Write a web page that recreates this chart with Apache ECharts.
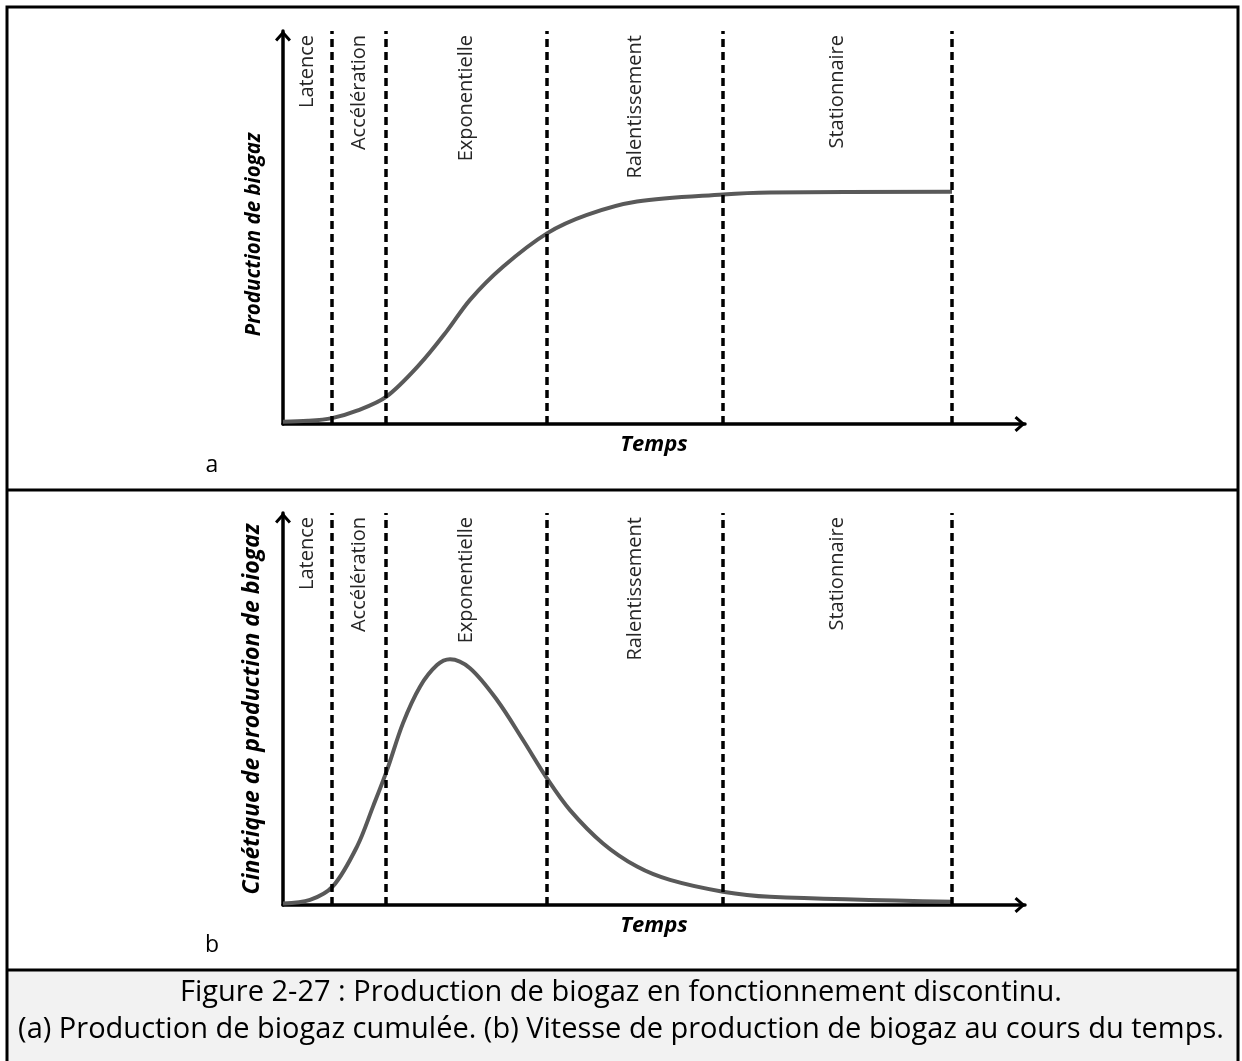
<!DOCTYPE html>
<html>
<head>
<meta charset="utf-8">
<script src="https://cdn.jsdelivr.net/npm/echarts@6/dist/echarts.min.js"></script>
<style>
  html, body { margin: 0; padding: 0; background: #fff; }
  #chart { width: 1242px; height: 1061px; }
</style>
</head>
<body>
<div id="chart"></div>
<script>
// phases of a batch digestion, boundaries in arbitrary time units
const phases = ['Latence', 'Accélération', 'Exponentielle', 'Ralentissement', 'Stationnaire'];
const phaseBounds = [0, 4.9, 10.3, 26.4, 44.0, 66.9];

// (a) cumulative biogas production
const timeA = [0, 2.5, 4.9, 7.4, 10.3, 13.7, 16.4, 18.7, 22.0, 26.4, 30.4, 35.4, 44.0, 48.7, 66.9];
const cumulA = [0.6, 0.8, 1.5, 3.4, 6.9, 15.3, 23.7, 31.6, 40.0, 48.5, 53.2, 56.6, 58.4, 58.9, 59.1];

// (b) biogas production rate
const timeB = [0, 2.7, 5.0, 7.4, 9.0, 10.4, 12.0, 13.7, 15.4, 16.7, 18.7, 21.4, 24.0, 26.4, 28.7, 32.0, 35.4, 38.7, 44.0, 48.7, 66.9];
const rateB = [0.4, 1.3, 4.8, 14.9, 25.1, 34.4, 46.4, 55.7, 61.2, 62.7, 60.4, 52.3, 42.1, 32.3, 24.2, 15.7, 9.8, 6.4, 3.4, 2.1, 0.8];

const yTitles = ['Production de biogaz', 'Cinétique de production de biogaz'];
const xTitle = 'Temps';
const panelTags = ['a', 'b'];
const caption = [
  'Figure 2-27 : Production de biogaz en fonctionnement discontinu.',
  '(a) Production de biogaz cumulée. (b) Vitesse de production de biogaz au cours du temps.'
];

const FONT = '"Open Sans", Lato, sans-serif';
const chevron = 'path://M8,0 L16,9 L13.8,11 L8,4.4 L2.2,11 L0,9 Z';

const chart = echarts.init(document.getElementById('chart'));

function xAx(i) {
  return {
    type: 'value', gridIndex: i, min: 0, max: 74.2,
    axisLine: { show: true, lineStyle: { color: '#000', width: 3.5 },
      symbol: ['none', chevron], symbolSize: [16, 11], symbolOffset: [0, -5] },
    axisTick: { show: false }, axisLabel: { show: false }, splitLine: { show: false },
    name: xTitle, nameLocation: 'middle', nameGap: 10,
    nameTextStyle: { fontFamily: FONT, fontSize: 22, fontWeight: 'bold', fontStyle: 'italic', color: '#000' }
  };
}
function yAx(i) {
  return {
    type: 'value', gridIndex: i, min: 0, max: 100,
    axisLine: { show: true, lineStyle: { color: '#000', width: 3.5 },
      symbol: ['none', chevron], symbolSize: [16, 11], symbolOffset: [0, -5] },
    axisTick: { show: false }, axisLabel: { show: false }, splitLine: { show: false },
    name: yTitles[i], nameLocation: 'middle', nameRotate: 90, nameGap: 19,
    nameTextStyle: { fontFamily: FONT, fontSize: i ? 23 : 20.5, fontWeight: 'bold', fontStyle: 'italic', color: '#000',
      padding: i ? 0 : [0, 14, 0, 0] }
  };
}
function curve(i, xs, ys) {
  return {
    type: 'line', xAxisIndex: i, yAxisIndex: i, smooth: 0.33, showSymbol: false,
    data: xs.map((x, k) => [x, ys[k]]),
    lineStyle: { color: '#595959', width: 4 },
    z: 3,
    markLine: {
      silent: true, symbol: 'none', animation: false,
      label: { show: false },
      lineStyle: { color: '#000', type: [8, 5], width: 3.5 },
      data: phaseBounds.slice(1).map(b => ({ xAxis: b }))
    }
  };
}

chart.setOption({
  animation: false,
  grid: [
    { left: 283, right: 217, top: 31, height: 393 },
    { left: 283, right: 217, top: 513, height: 392 }
  ],
  xAxis: [xAx(0), xAx(1)],
  yAxis: [yAx(0), yAx(1)],
  series: [curve(0, timeA, cumulA), curve(1, timeB, rateB)]
});

// frame, caption and phase names
const g = [];
g.push({ type: 'rect', z: 0, shape: { x: 7, y: 970, width: 1231, height: 100 }, style: { fill: '#f2f2f2' } });
g.push({ type: 'rect', z: 10, shape: { x: 7, y: 7, width: 1231, height: 1080 }, style: { fill: 'none', stroke: '#000', lineWidth: 3 } });
[490, 970].forEach(y => g.push({ type: 'line', z: 10, shape: { x1: 7, y1: y, x2: 1238, y2: y }, style: { stroke: '#000', lineWidth: 3 } }));
caption.forEach((t, k) => g.push({
  type: 'text', z: 11, x: 621, y: 993 + k * 37,
  style: { text: t, fontFamily: FONT, fontSize: 29, fill: '#000', align: 'center', verticalAlign: 'middle' }
}));
panelTags.forEach((t, i) => {
  g.push({ type: 'text', z: 11, x: 212, y: 465 + i * 480,
    style: { text: t, fontFamily: FONT, fontSize: 23, fill: '#000', align: 'center', verticalAlign: 'middle' } });
  phases.forEach((p, k) => {
    const mid = (phaseBounds[k] + phaseBounds[k + 1]) / 2;
    const pt = chart.convertToPixel({ gridIndex: i }, [mid, 100]);
    g.push({ type: 'text', z: 11, x: pt[0], y: pt[1] + 4, rotation: Math.PI / 2,
      style: { text: p, fontFamily: FONT, fontSize: 20, fill: '#262626', align: 'right', verticalAlign: 'middle' } });
  });
});
chart.setOption({ graphic: g });
</script>
</body>
</html>
